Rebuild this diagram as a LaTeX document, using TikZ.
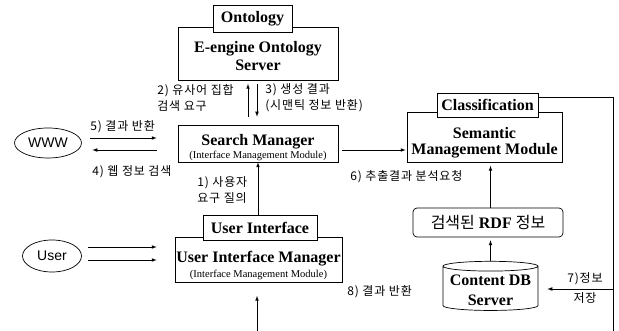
\documentclass[tikz,border=0pt]{standalone}
\usepackage{fontspec}
\setmainfont{Liberation Serif}
\newfontfamily\krfont[LetterSpace=7]{Noto Sans CJK KR}
\newfontfamily\krwide{Noto Sans CJK KR}
\newfontfamily\wwwfont{Liberation Sans}
\usetikzlibrary{calc,shapes.geometric}
\newcommand\subline[1]{{\normalfont\fontsize{10.5}{12}\selectfont #1}}
\newcommand\lift[1]{\rule{0pt}{#1}}

\begin{document}
\begin{tikzpicture}[x=1pt,y=-1pt,line width=0.7pt,>=latex,
  box/.style={draw,fill=white,align=center,inner sep=0pt,font=\bfseries\fontsize{16}{18}\selectfont},
  note/.style={align=left,inner sep=0pt,font=\krfont\fontsize{12}{16}\selectfont},
  blob/.style={draw,ellipse,inner sep=0pt,font=\wwwfont\fontsize{14}{16}\selectfont}]
\useasboundingbox (0,0) rectangle (619,331);
% boxes
\node[box,minimum width=160pt,minimum height=53pt] (ontsrv) at (258,54) {\lift{15pt}E-engine Ontology\\Server};
\node[box,minimum width=79pt,minimum height=27pt] (ontlbl) at (252.5,18.5) {Ontology};
\node[box,minimum width=160pt,minimum height=37pt] (search) at (258,143.5) {\lift{19pt}Search Manager\\[-5pt]\subline{(Interface Management Module)}};
\node[box,minimum width=167pt,minimum height=45pt] (uim) at (258.5,260) {\lift{23pt}User Interface Manager\\[-3pt]\subline{(Interface Management Module)}};
\node[box,minimum width=114pt,minimum height=25pt] (uilbl) at (260,227.5) {User Interface};
\node[box,minimum width=155pt,minimum height=50pt] (sem) at (484.5,137.5) {\lift{21pt}Semantic\\[-2pt]Management Module};
\node[box,minimum width=101pt,minimum height=24pt] (cls) at (487.5,105) {Classification};
\node[box,rounded corners=4pt,minimum width=150pt,minimum height=29pt] (rdf) at (488,222.5) {{\krwide\mdseries 검색된} RDF {\krwide\mdseries 정보}};
\node[box,cylinder,shape border rotate=90,aspect=0.12,minimum width=95pt,minimum height=47pt] (db) at (490.5,288.5) {\lift{14pt}Content DB\\[2pt]Server};
\node[blob,minimum width=67pt,minimum height=30pt] (www) at (48,143) {WWW};
\node[blob,minimum width=59pt,minimum height=32pt] (user) at (52,256) {User};
\coordinate (rc) at (613,97);
\coordinate (rbot) at (613,331);
\coordinate (tap) at (613,289);
\coordinate (base) at (257,331);
% connectors
\draw[->,shorten <=8pt,shorten >=3pt] ([xshift=-10pt]search.north) -- ([xshift=-10pt]ontsrv.south);
\draw[->,shorten <=3pt,shorten >=8pt] ([xshift=-1pt]ontsrv.south) -- ([xshift=-1pt]search.north);
\draw[->] (uilbl.north -| search.south) -- (search.south);
\draw[->,shorten <=4pt,shorten >=1pt] ([yshift=-6.5pt]search.east) -- ([yshift=-6.5pt]search.east -| sem.west);
\draw[->,shorten >=3pt] (rdf.north -| db.north) -- (db.north |- sem.south);
\draw[->,shorten >=3pt] (db.north) -- (db.north |- rdf.south);
\draw (cls.east |- rc) -- (rc) -- (rbot);
\draw[->,shorten >=9pt] (tap) -- (tap -| db.east);
\draw[->,shorten >=13pt] (base) -- (base |- uim.south);
\draw[->,shorten <=8.5pt,shorten >=21pt] ([yshift=5pt]www.east) -- ([yshift=5pt]www.east -| search.west);
\draw[<-,shorten <=10.5pt,shorten >=21pt] ([yshift=-7pt]www.east) -- ([yshift=-7pt]www.east -| search.west);
\draw[->,shorten <=6.5pt,shorten >=18pt] ([yshift=9pt]user.east) -- ([yshift=9pt]user.east -| uim.west);
\draw[->,shorten <=6.5pt,shorten >=18pt] ([yshift=-4pt]user.east) -- ([yshift=-4pt]user.east -| uim.west);
% labels
\node[note,anchor=west] (n2) at (157,98) {2) 유사어 집합\\검색 요구};
\node[note,anchor=west] (n3) at (265,98) {3) 생성 결과\\(시맨틱 정보 반환)};
\node[note,anchor=west] (n5) at (90,127) {5) 결과 반환};
\node[note,anchor=west] (n4) at (92,172) {4) 웹 정보 검색};
\node[note,anchor=west] (n1) at (197,190) {1) 사용자\\요구 질의};
\node[note,anchor=west] (n6) at (350,177) {6) 추출결과 분석요청};
\node[note,align=center,font=\krfont\fontsize{12}{20}\selectfont] (n7) at (585,288) {7)정보\\저장};
\node[note,anchor=west] (n8) at (347,292) {8) 결과 반환};
\end{tikzpicture}
\end{document}
